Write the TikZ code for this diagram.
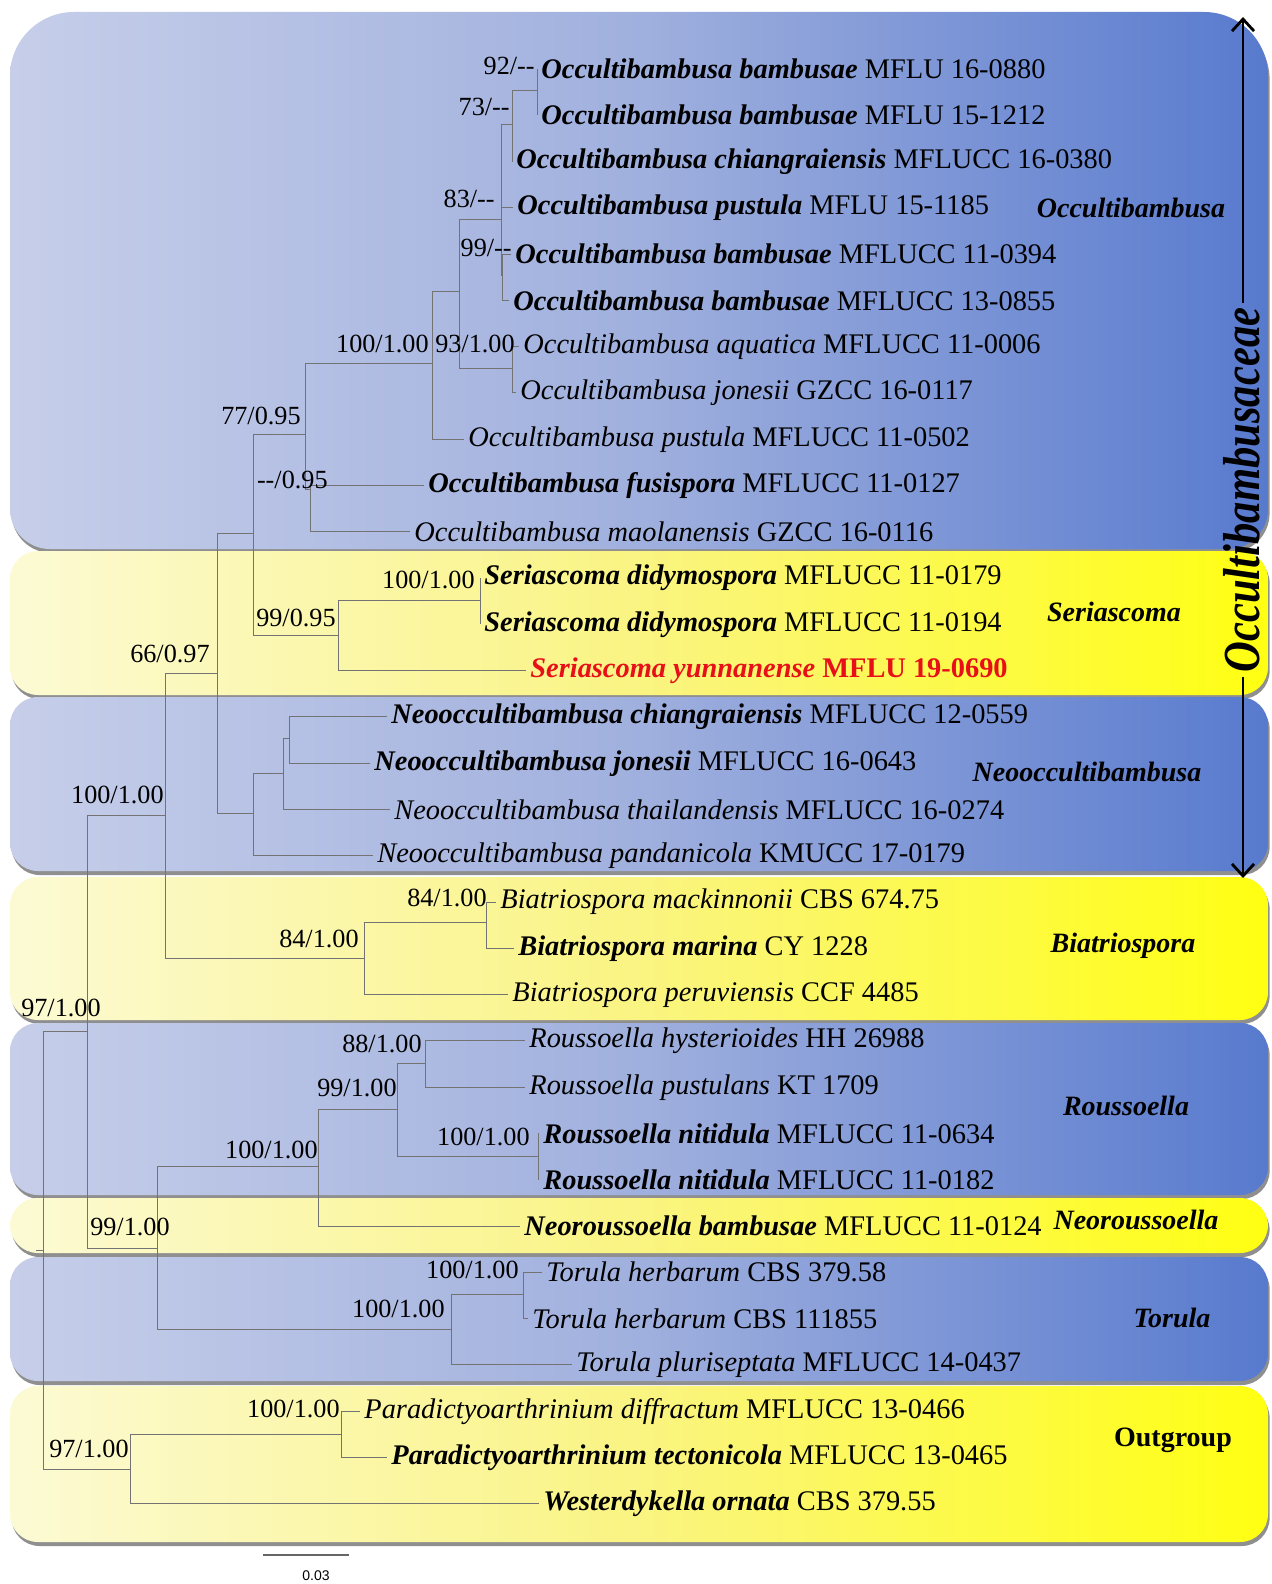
\documentclass[tikz,border=0pt]{standalone}
\usepackage{fontspec}
\setmainfont{Liberation Serif}
\setsansfont{Liberation Sans}
\usepackage{graphicx}
\usepackage{tikz}
\usetikzlibrary{positioning, arrows.meta, shadows}

\definecolor{bandblueL}{RGB}{198,206,233}
\definecolor{bandblueM}{RGB}{160,176,222}
\definecolor{bandblueR}{RGB}{88,122,206}
\definecolor{bandyelL}{RGB}{252,250,212}
\definecolor{bandyelM}{RGB}{250,244,130}
\definecolor{bandyelR}{RGB}{255,255,18}
\definecolor{serred}{RGB}{232,16,24}

\pgfdeclarehorizontalshading{blueband}{100bp}{color(0bp)=(bandblueL); color(25bp)=(bandblueL); color(50bp)=(bandblueM); color(75bp)=(bandblueR); color(100bp)=(bandblueR)}
\pgfdeclarehorizontalshading{yellowband}{100bp}{color(0bp)=(bandyelL); color(25bp)=(bandyelL); color(50bp)=(bandyelM); color(75bp)=(bandyelR); color(100bp)=(bandyelR)}

\newcommand{\taxb}[1]{\textbf{\textit{#1}}}
\newcommand{\taxi}[1]{\textit{#1}}

\tikzset{
  band/.style={rounded corners=14pt, drop shadow={shadow xshift=0.8pt, shadow yshift=-2pt, opacity=0.55, fill=black!80}},
  branch/.style={draw=black!55, line width=0.5pt},
  tip/.style={anchor=west, inner sep=0pt, inner xsep=2pt, font=\fontsize{14.2}{16}\selectfont},
  supp/.style={anchor=east, inner sep=0pt, font=\fontsize{13.1}{15}\selectfont},
  grplab/.style={font=\fontsize{14}{16}\selectfont\bfseries\itshape},
  famlab/.style={rotate=90, inner sep=2pt, font=\fontsize{26}{29}\selectfont\bfseries\itshape},
  famarrow/.style={line width=1.4pt, -{Straight Barb[length=6pt,width=11pt]}},
}

\begin{document}
\begin{tikzpicture}[x=0.5pt, y=-0.5pt]
    \useasboundingbox (0,0) rectangle (1272,1584);

    % Coloured clade bands
    \path[band, shading=blueband] (10,300) [rounded corners=32pt] -- (10,12) -- (1268,12) -- (1268,300)
        [rounded corners=20pt] -- (1268,549) -- (10,549) -- cycle;
    \foreach \top/\bot/\shd in {551/695/yellowband, 697/871/blueband, 877/1020/yellowband,
        1023/1195/blueband, 1198/1253/yellowband, 1257/1381/blueband, 1386/1542/yellowband} {
        \path[band, shading=\shd] (10,\top) rectangle (1268,\bot);
    }

    % Taxa
    \foreach \n/\wx/\lab in {
        1/537/{\taxb{Occultibambusa bambusae} MFLU 16-0880},
        2/537/{\taxb{Occultibambusa bambusae} MFLU 15-1212},
        3/512/{\taxb{Occultibambusa chiangraiensis} MFLUCC 16-0380},
        4/513/{\taxb{Occultibambusa pustula} MFLU 15-1185},
        5/511/{\taxb{Occultibambusa bambusae} MFLUCC 11-0394},
        6/509/{\taxb{Occultibambusa bambusae} MFLUCC 13-0855},
        7/519/{\taxi{Occultibambusa aquatica} MFLUCC 11-0006},
        8/516/{\taxi{Occultibambusa jonesii} GZCC 16-0117},
        9/464/{\taxi{Occultibambusa pustula} MFLUCC 11-0502},
        10/424/{\taxb{Occultibambusa fusispora} MFLUCC 11-0127},
        11/410/{\taxi{Occultibambusa maolanensis} GZCC 16-0116},
        12/480/{\taxb{Seriascoma didymospora} MFLUCC 11-0179},
        13/480/{\taxb{Seriascoma didymospora} MFLUCC 11-0194},
        14/526/{\textcolor{serred}{\taxb{Seriascoma yunnanense} \textbf{MFLU 19-0690}}},
        15/387/{\taxb{Neooccultibambusa chiangraiensis} MFLUCC 12-0559},
        16/370/{\taxb{Neooccultibambusa jonesii} MFLUCC 16-0643},
        17/390/{\taxi{Neooccultibambusa thailandensis} MFLUCC 16-0274},
        18/373/{\taxi{Neooccultibambusa pandanicola} KMUCC 17-0179},
        19/496/{\taxi{Biatriospora mackinnonii} CBS 674.75},
        20/514/{\taxb{Biatriospora marina} CY 1228},
        21/508/{\taxi{Biatriospora peruviensis} CCF 4485},
        22/525/{\taxi{Roussoella hysterioides} HH 26988},
        23/525/{\taxi{Roussoella pustulans} KT 1709},
        24/539/{\taxb{Roussoella nitidula} MFLUCC 11-0634},
        25/539/{\taxb{Roussoella nitidula} MFLUCC 11-0182},
        26/520/{\taxb{Neoroussoella bambusae} MFLUCC 11-0124},
        27/542/{\taxi{Torula herbarum} CBS 379.58},
        28/528/{\taxi{Torula herbarum} CBS 111855},
        29/572/{\taxi{Torula pluriseptata} MFLUCC 14-0437},
        30/360/{\taxi{Paradictyoarthrinium diffractum} MFLUCC 13-0466},
        31/387/{\taxb{Paradictyoarthrinium tectonicola} MFLUCC 13-0465},
        32/539/{\taxb{Westerdykella ornata} CBS 379.55}} {
        \node[tip] (t\n) at (\wx, {69+46.28*(\n-1)}) {\lab};
    }

    % Internal nodes
    \coordinate (oc92) at (537,91);
    \coordinate (oc73) at (512,125);
    \coordinate (oc83) at (501,219);
    \coordinate (oc99) at (502,275);
    \coordinate (oc93) at (512,368);
    \coordinate (oc459) at (459,291);
    \coordinate (oc100) at (432,363);
    \coordinate (oc77) at (305,434);
    \coordinate (oc95) at (310,489);
    \coordinate (occ) at (253,533);
    \coordinate (se100) at (480,600);
    \coordinate (se99) at (338,635);
    \coordinate (ne3) at (289,738);
    \coordinate (ne2) at (283,773);
    \coordinate (ne1) at (253,813);
    \coordinate (fam66) at (217,673);
    \coordinate (bi84a) at (486,922);
    \coordinate (bi84b) at (364,958);
    \coordinate (cl165) at (165,815);
    \coordinate (ro88) at (425,1063);
    \coordinate (ro100) at (538,1156);
    \coordinate (ro99) at (397,1109);
    \coordinate (ro318) at (318,1166);
    \coordinate (to100a) at (523,1294);
    \coordinate (to100b) at (451,1329);
    \coordinate (cl157) at (157,1248);
    \coordinate (cl87) at (87,1031);
    \coordinate (og100) at (341,1434);
    \coordinate (og97) at (130,1469);
    \coordinate (root) at (43,1250);
    \coordinate (rootstub) at (36,1250);

    % Branches
    \foreach \a/\b in {oc92/t1.west, oc92/t2.west, oc73/oc92, oc73/t3.west, oc83/oc73, oc83/t4.west,
        oc83/oc99, oc99/t5.west, oc99/t6.west, oc93/t7.west, oc93/t8.west, oc459/oc83, oc459/oc93,
        oc100/oc459, oc100/t9.west, oc95/t10.west, oc95/t11.west, oc77/oc100, oc77/oc95,
        se100/t12.west, se100/t13.west, se99/se100, se99/t14.west, occ/oc77, occ/se99,
        ne3/t15.west, ne3/t16.west, ne2/ne3, ne2/t17.west, ne1/ne2, ne1/t18.west, fam66/occ, fam66/ne1,
        bi84a/t19.west, bi84a/t20.west, bi84b/bi84a, bi84b/t21.west, cl165/fam66, cl165/bi84b,
        ro88/t22.west, ro88/t23.west, ro100/t24.west, ro100/t25.west, ro99/ro88, ro99/ro100,
        ro318/ro99, ro318/t26.west, to100a/t27.west, to100a/t28.west, to100b/to100a, to100b/t29.west,
        cl157/ro318, cl157/to100b, cl87/cl165, cl87/cl157, og100/t30.west, og100/t31.west,
        og97/og100, og97/t32.west, root/cl87, root/og97} {
        \draw[branch] (\a) |- (\b);
    }
    \draw[branch] (rootstub) -- (root);

    % Support values
    \foreach \sx/\sy/\sv in {535/66/{92/-{}-}, 510/107/{73/-{}-}, 495/199/{83/-{}-}, 512/248/{99/-{}-},
        429/344/{100/1.00}, 515/344/{93/1.00}, 301/416/{77/0.95}, 328/480/{-{}-/0.95},
        475/580/{100/1.00}, 336/618/{99/0.95}, 210/654/{66/0.97}, 164/795/{100/1.00},
        487/898/{84/1.00}, 359/939/{84/1.00}, 101/1008/{97/1.00}, 422/1044/{88/1.00},
        397/1088/{99/1.00}, 530/1137/{100/1.00}, 318/1150/{100/1.00}, 170/1227/{99/1.00},
        519/1270/{100/1.00}, 445/1309/{100/1.00}, 340/1409/{100/1.00}, 129/1449/{97/1.00}} {
        \node[supp] at (\sx,\sy) {\sv};
    }

    % Clade names
    \node[grplab] (gocc) at (1131,208) {Occultibambusa};
    \node[grplab] (gser) at (1114,612) {Seriascoma};
    \node[grplab] (gneo) at (1087,772) {Neooccultibambusa};
    \node[grplab] (gbia) at (1123,946) {Biatriospora};
    \node[grplab] (grou) at (1126,1106) {Roussoella};
    \node[grplab] (gnro) at (1136,1220) {Neoroussoella};
    \node[grplab] (gtor) at (1172,1318) {Torula};
    \node[grplab, font=\fontsize{14}{16}\selectfont\bfseries] (gout) at (1173,1440) {Outgroup};

    % Family bracket
    \node[famlab] (fam) at (1242,490) {\scalebox{0.82}[1]{Occultibambusaceae}};
    \coordinate (famtop) at (1243,17);
    \coordinate (fambot) at (1243,878);
    \draw[famarrow] (fam.east -| famtop) -- (famtop);
    \draw[famarrow] (fam.west -| fambot) -- (fambot);

    % Scale bar
    \coordinate (sbl) at (263,1555);
    \coordinate (sbr) at (349,1555);
    \draw[black!60, line width=0.8pt] (sbl) -- (sbr);
    \node[font=\sffamily\fontsize{7}{8}\selectfont] (sbtext) at (316,1576) {0.03};
\end{tikzpicture}
\end{document}
